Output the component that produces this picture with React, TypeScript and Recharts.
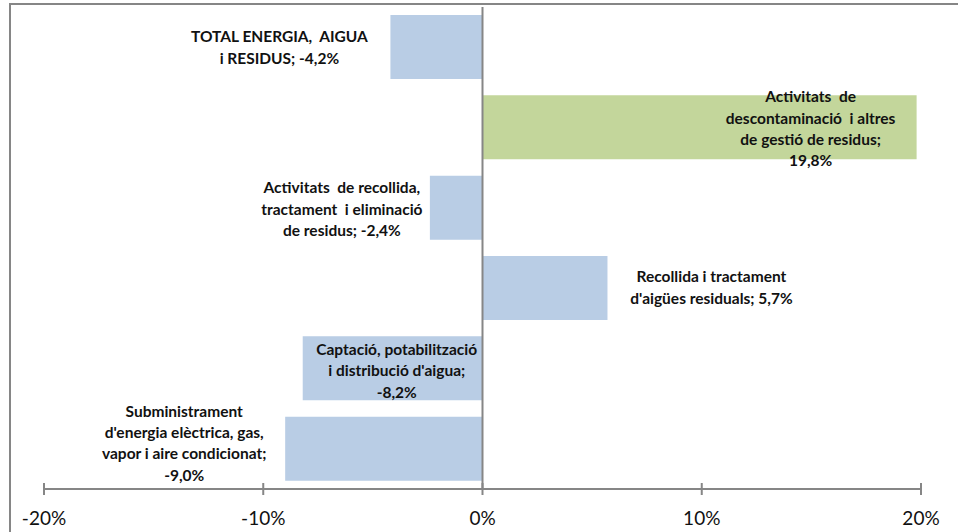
import React from 'react';
import { BarChart, Bar, XAxis, YAxis, ReferenceLine, LabelList, Cell } from 'recharts';

// categories, top to bottom
const categories = [
  'TOTAL ENERGIA, AIGUA i RESIDUS',
  'Activitats de descontaminació i altres de gestió de residus',
  'Activitats de recollida, tractament i eliminació de residus',
  "Recollida i tractament d'aigües residuals",
  "Captació, potabilització i distribució d'aigua",
  "Subministrament d'energia elèctrica, gas, vapor i aire condicionat",
];

// variació (%)
const values = [-4.2, 19.8, -2.4, 5.7, -8.2, -9.0];

// how the name is broken in the data label
const nameLines = [
  ['TOTAL ENERGIA,  AIGUA', 'i RESIDUS'],
  ['Activitats  de', 'descontaminació  i altres', 'de gestió de residus'],
  ['Activitats  de recollida,', 'tractament  i eliminació', 'de residus'],
  ['Recollida i tractament', "d'aigües residuals"],
  ['Captació, potabilització', "i distribució d'aigua"],
  ['Subministrament', "d'energia elèctrica, gas,", 'vapor i aire condicionat'],
];
const valueOnOwnLine = [false, true, false, false, true, true];

const highlighted = [false, true, false, false, false, false];

const xTicks = [-20, -10, 0, 10, 20];

// label placement relative to the end of each bar
const labelDx = [-111, -106, -88, 104, 94, -101];
const labelDy = [0, 1, 1, -1, 2, -6];

const BLUE = '#B9CDE5';
const GREEN = '#C3D69B';
const GREY = '#868686';
const FONT = 'Lato, "Liberation Sans", sans-serif';

const data = categories.map((name, i) => ({ name, value: values[i] }));

const fmt = (v: number) => `${v.toFixed(1).replace('.', ',')}%`;

const labelText = (i: number) => {
  const lines = [...nameLines[i]];
  const last = lines.length - 1;
  if (valueOnOwnLine[i]) {
    lines[last] = lines[last] + ';';
    lines.push(fmt(values[i]));
  } else {
    lines[last] = lines[last] + '; ' + fmt(values[i]);
  }
  return lines;
};

const BarLabel = (props: any) => {
  const { x, y, width, height, index } = props;
  const v = values[index];
  const a = Number(x);
  const b = Number(x) + Number(width);
  const end = v < 0 ? Math.min(a, b) : Math.max(a, b);
  const cx = end + labelDx[index];
  const cy = Number(y) + Number(height) / 2 + labelDy[index];
  const lines = labelText(index);
  const lh = 21.3;
  const top = cy - ((lines.length - 1) * lh) / 2;
  return (
    <text
      textAnchor="middle"
      fontFamily={FONT}
      fontWeight="bold"
      fontSize={15.5}
      fill="#111"
    >
      {lines.map((l, k) => (
        <tspan key={k} x={cx} y={top + k * lh} dominantBaseline="central" style={{ whiteSpace: 'pre' }}>
          {l}
        </tspan>
      ))}
    </text>
  );
};

const AxisTick = (props: any) => {
  const { x, y, payload } = props;
  return (
    <g>
      <line x1={x} x2={x} y1={y - 6} y2={y + 6} stroke={GREY} strokeWidth={2} />
      <text x={x} y={y + 28} textAnchor="middle" dominantBaseline="central" fontFamily={FONT} fontSize={19} fill="#111">
        {`${payload.value}%`}
      </text>
    </g>
  );
};

export default function App() {
  return (
    <div style={{ position: 'absolute', left: 0, top: 0, width: 958, height: 532, overflow: 'hidden', background: '#fff' }}>
      <div
        style={{
          position: 'absolute',
          left: 9,
          top: 3,
          width: 1000,
          height: 600,
          border: `2px solid ${GREY}`,
        }}
      />
      <div style={{ position: 'absolute', left: 0, top: 0 }}>
        <BarChart
          width={958}
          height={532}
          data={data}
          layout="vertical"
          margin={{ top: 7, right: 37, bottom: 0, left: 44 }}
        >
          <XAxis
            type="number"
            domain={[-20, 20]}
            ticks={xTicks}
            interval={0}
            height={43}
            axisLine={{ stroke: GREY, strokeWidth: 2 }}
            tickLine={false}
            tickSize={0}
            tickMargin={0}
            tick={<AxisTick />}
          />
          <YAxis type="category" dataKey="name" hide width={0} />
          <Bar dataKey="value" barSize={64} isAnimationActive={false}>
            {data.map((d, i) => (
              <Cell key={d.name} fill={highlighted[i] ? GREEN : BLUE} />
            ))}
            <LabelList dataKey="value" content={<BarLabel />} />
          </Bar>
          <ReferenceLine x={0} stroke={GREY} strokeWidth={2} />
        </BarChart>
      </div>
    </div>
  );
}
